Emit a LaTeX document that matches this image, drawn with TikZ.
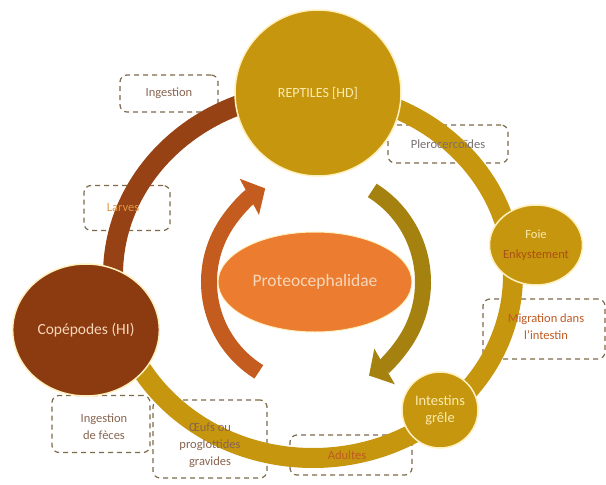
\documentclass[tikz,border=0pt]{standalone}
\usepackage{fontspec}
\setmainfont{Carlito}
\usetikzlibrary{shapes.geometric,arrows.meta}
\definecolor{gold}{RGB}{198,150,14}
\definecolor{cbrown}{RGB}{140,58,16}
\definecolor{bandbrown}{RGB}{150,66,20}
\definecolor{dashc}{RGB}{125,105,75}
\definecolor{rimc}{RGB}{255,240,190}
\definecolor{hubor}{RGB}{235,124,48}
\definecolor{larrc}{RGB}{196,92,32}
\definecolor{rarrc}{RGB}{165,130,16}
\definecolor{creamtxt}{RGB}{250,235,175}
\definecolor{peachtxt}{RGB}{248,215,185}
\definecolor{enkc}{RGB}{170,80,20}
\definecolor{graytxt}{RGB}{120,110,110}
\definecolor{browntxt}{RGB}{135,100,80}
\definecolor{orangetxt}{RGB}{190,90,35}
\definecolor{larvtxt}{RGB}{225,150,70}
\tikzset{
  dbox/.style={draw=dashc, dash pattern=on 5pt off 4pt, line width=1.2pt, rounded corners=7pt, inner sep=0pt},
  band/.style={line width=20pt},
  hubnode/.style={circle, fill=gold, draw=rimc, line width=1.5pt, inner sep=0pt, text=creamtxt, align=center},
  lbl/.style={font=\fontsize{12.5}{17}\selectfont, align=center, inner sep=0pt},
}
\begin{document}
\begin{tikzpicture}[x=1pt,y=-1pt]
\useasboundingbox (0,0) rectangle (606,485);
% dashed boxes
\node[dbox, minimum width=98pt, minimum height=37pt] (bing) at (169,93.5) {};
\node[dbox, minimum width=120pt, minimum height=38pt] (bpler) at (448,144) {};
\node[dbox, minimum width=122pt, minimum height=60pt] (bmig) at (544,329) {};
\node[dbox, minimum width=122pt, minimum height=40pt] (badu) at (351,455) {};
\node[dbox, minimum width=114pt, minimum height=78pt] (boeuf) at (210,439) {};
\node[dbox, minimum width=98pt, minimum height=57pt] (bfec) at (101,424) {};
\node[dbox, minimum width=86pt, minimum height=45pt] (blarv) at (127,208) {};
% ring
\coordinate (ringc) at (313,275);
\draw[band, bandbrown] (ringc) ++(180:200 and 183) arc[start angle=180, end angle=270, x radius=200, y radius=183];
\draw[band, gold] (ringc) ++(-90:200 and 183) arc[start angle=-90, end angle=180, x radius=200, y radius=183];
% hub
\node[ellipse, fill=hubor, draw=rimc, line width=1pt, minimum width=194pt, minimum height=100pt, text=peachtxt, font=\fontsize{17.5}{20}\selectfont] (hub) at (315,282) {Proteocephalidae};
\draw[line width=16pt, larrc, -{Triangle[length=18pt,width=40pt]}] (hub.center) ++(122:106) arc[start angle=122, end angle=242, radius=106];
\draw[line width=16pt, rarrc, -{Triangle[length=18pt,width=40pt]}] (hub.center) ++(-58:108) arc[start angle=-58, end angle=60, radius=108];
% stage circles
\node[hubnode, minimum size=166pt, font=\fontsize{14}{16}\selectfont] (rep) at (318,93) {REPTILES [HD]};
\node[ellipse, fill=cbrown, draw=rimc, line width=1.5pt, minimum width=144pt, minimum height=132pt, text=peachtxt, font=\fontsize{15.5}{18}\selectfont] (cop) at (86,330) {Copépodes (HI)};
\node[hubnode, ellipse, minimum width=92pt, minimum height=80pt, font=\fontsize{12.5}{20}\selectfont] (foie) at (536,245) {Foie\\\textcolor{enkc}{Enkystement}};
\node[hubnode, minimum size=76pt, font=\fontsize{14.5}{17}\selectfont] (intes) at (440,410) {Intestins\\grêle};
% labels
\node[lbl, text=browntxt] (ting) at (bing) {Ingestion};
\node[lbl, text=graytxt] (tpler) at (bpler) {Plerocercoïdes};
\node[lbl, text=orangetxt] (tmig) at (546,327) {Migration dans\\l'intestin};
\node[lbl, text=orangetxt] (tadu) at (347,455) {Adultes};
\node[lbl, text=browntxt] (toeuf) at (210,445) {Œufs ou\\proglottides\\gravides};
\node[lbl, text=browntxt] (tfec) at (104,427) {Ingestion\\de fèces};
\node[lbl, text=larvtxt] (tlarv) at (123,208) {Larves};
\end{tikzpicture}
\end{document}
